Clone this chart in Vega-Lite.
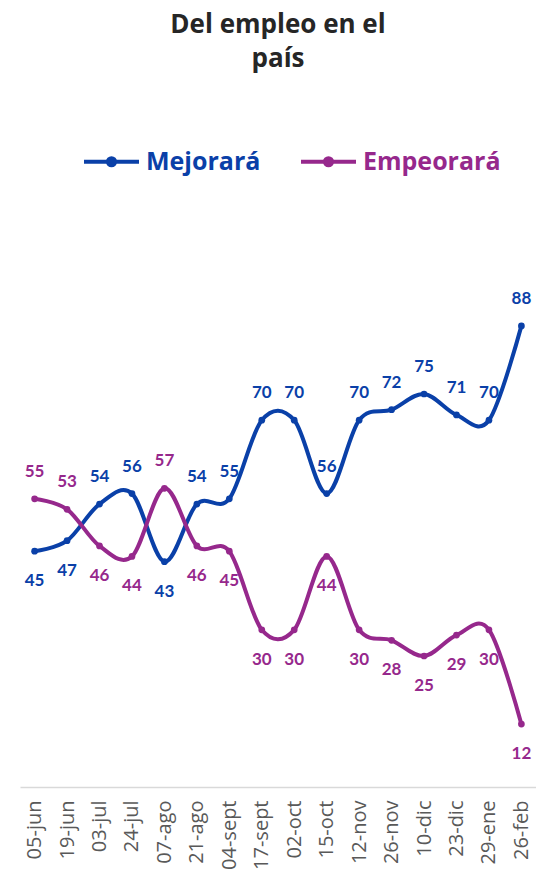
{
  "$schema": "https://vega.github.io/schema/vega-lite/v6.json",
  "description": "Del empleo en el país: Mejorará vs Empeorará",
  "width": 516,
  "height": 524,
  "autosize": {"type": "none"},
  "padding": {"left": 20, "top": 263, "right": 0, "bottom": 91},
  "background": "white",
  "title": {
    "text": ["Del empleo en el", "país"],
    "font": "Open Sans",
    "fontSize": 26,
    "fontWeight": "bold",
    "color": "#262626",
    "lineHeight": 34,
    "anchor": "middle",
    "frame": "group",
    "offset": 60
  },
  "data": {
    "values": [
      {"fecha": "05-jun", "serie": "Mejorará", "valor": 45},
      {"fecha": "19-jun", "serie": "Mejorará", "valor": 47},
      {"fecha": "03-jul", "serie": "Mejorará", "valor": 54},
      {"fecha": "24-jul", "serie": "Mejorará", "valor": 56},
      {"fecha": "07-ago", "serie": "Mejorará", "valor": 43},
      {"fecha": "21-ago", "serie": "Mejorará", "valor": 54},
      {"fecha": "04-sept", "serie": "Mejorará", "valor": 55},
      {"fecha": "17-sept", "serie": "Mejorará", "valor": 70},
      {"fecha": "02-oct", "serie": "Mejorará", "valor": 70},
      {"fecha": "15-oct", "serie": "Mejorará", "valor": 56},
      {"fecha": "12-nov", "serie": "Mejorará", "valor": 70},
      {"fecha": "26-nov", "serie": "Mejorará", "valor": 72},
      {"fecha": "10-dic", "serie": "Mejorará", "valor": 75},
      {"fecha": "23-dic", "serie": "Mejorará", "valor": 71},
      {"fecha": "29-ene", "serie": "Mejorará", "valor": 70},
      {"fecha": "26-feb", "serie": "Mejorará", "valor": 88},
      {"fecha": "05-jun", "serie": "Empeorará", "valor": 55},
      {"fecha": "19-jun", "serie": "Empeorará", "valor": 53},
      {"fecha": "03-jul", "serie": "Empeorará", "valor": 46},
      {"fecha": "24-jul", "serie": "Empeorará", "valor": 44},
      {"fecha": "07-ago", "serie": "Empeorará", "valor": 57},
      {"fecha": "21-ago", "serie": "Empeorará", "valor": 46},
      {"fecha": "04-sept", "serie": "Empeorará", "valor": 45},
      {"fecha": "17-sept", "serie": "Empeorará", "valor": 30},
      {"fecha": "02-oct", "serie": "Empeorará", "valor": 30},
      {"fecha": "15-oct", "serie": "Empeorará", "valor": 44},
      {"fecha": "12-nov", "serie": "Empeorará", "valor": 30},
      {"fecha": "26-nov", "serie": "Empeorará", "valor": 28},
      {"fecha": "10-dic", "serie": "Empeorará", "valor": 25},
      {"fecha": "23-dic", "serie": "Empeorará", "valor": 29},
      {"fecha": "29-ene", "serie": "Empeorará", "valor": 30},
      {"fecha": "26-feb", "serie": "Empeorará", "valor": 12}
    ]
  },
  "transform": [
    {"joinaggregate": [{"op": "max", "field": "valor", "as": "maximo"}], "groupby": ["fecha"]}
  ],
  "encoding": {
    "x": {
      "field": "fecha",
      "type": "ordinal",
      "sort": null,
      "scale": {"type": "point", "padding": 0.45},
      "axis": {
        "title": null,
        "labelAngle": -90,
        "labelAlign": "right",
        "labelBaseline": "middle",
        "labelFont": "Open Sans",
        "labelFontSize": 20,
        "labelColor": "#595959",
        "labelPadding": 13,
        "labelOverlap": false,
        "labelBound": false,
        "ticks": false,
        "domainColor": "#d9d9d9",
        "domainWidth": 1.5,
        "grid": false
      }
    },
    "y": {
      "field": "valor",
      "type": "quantitative",
      "scale": {"domain": [0, 100]},
      "axis": null
    },
    "color": {
      "field": "serie",
      "type": "nominal",
      "sort": ["Mejorará", "Empeorará"],
      "scale": {"domain": ["Mejorará", "Empeorará"], "range": ["#0A40A8", "#96288C"]},
      "legend": {
        "title": null,
        "orient": "none",
        "direction": "horizontal",
        "legendX": 62,
        "legendY": -131,
        "symbolType": "M-1,0L1,0M-0.13,0A0.13,0.13,0,1,1,0.13,0A0.13,0.13,0,1,1,-0.13,0",
        "symbolSize": 3025,
        "symbolStrokeWidth": 4,
        "labelFont": "Open Sans",
        "labelFontSize": 25,
        "labelFontWeight": "bold",
        "labelOffset": 5,
        "columnPadding": 32,
        "encode": {
          "labels": {"update": {"fill": {"scale": "color", "field": "value"}}},
          "symbols": {"update": {"fill": {"scale": "color", "field": "value"}, "stroke": {"scale": "color", "field": "value"}}}
        }
      }
    }
  },
  "layer": [
    {
      "mark": {
        "type": "line",
        "interpolate": "cardinal",
        "strokeWidth": 4,
        "point": {"filled": true, "size": 45}
      }
    },
    {
      "transform": [{"filter": "datum.valor == datum.maximo"}],
      "mark": {"type": "text", "dy": -27, "font": "Lato", "fontSize": 17, "fontWeight": "bold"},
      "encoding": {"text": {"field": "valor", "type": "quantitative"}}
    },
    {
      "transform": [{"filter": "datum.valor != datum.maximo"}],
      "mark": {"type": "text", "dy": 30, "font": "Lato", "fontSize": 17, "fontWeight": "bold"},
      "encoding": {"text": {"field": "valor", "type": "quantitative"}}
    }
  ],
  "config": {"view": {"stroke": null}}
}
